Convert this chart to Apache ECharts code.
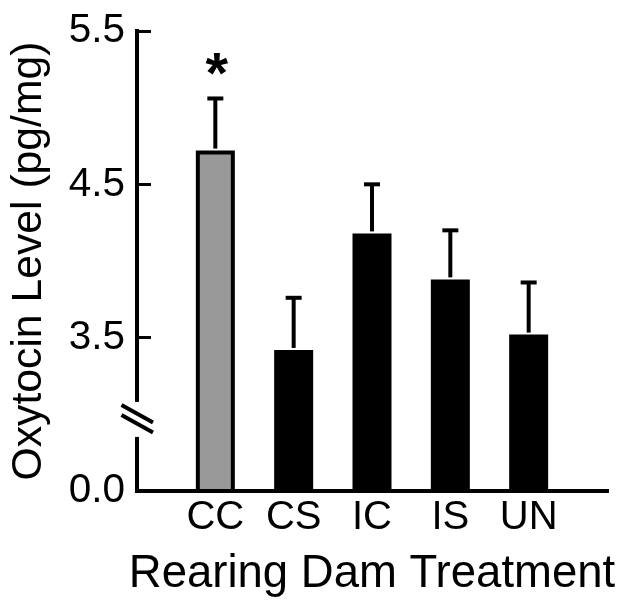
<!DOCTYPE html>
<html><head><meta charset="utf-8">
<script src="https://cdn.jsdelivr.net/npm/echarts@6/dist/echarts.min.js"></script>
<style>html,body{margin:0;padding:0;background:#fff}#c{width:633px;height:609px}</style>
</head><body><div id="c"></div>
<script>
const categories = ['CC', 'CS', 'IC', 'IS', 'UN'];
const means = [4.72, 3.42, 4.18, 3.88, 3.52];
const errors = [0.34, 0.34, 0.32, 0.32, 0.34];
const marks = ['*', '', '', '', ''];
const yTickValues = [3.5, 4.5, 5.5];
const yLabelValues = [2.5, 3.5, 4.5, 5.5];
const yLabelTexts = ['0.0', '3.5', '4.5', '5.5'];
const axisFloor = 2.5;   // broken axis: floor is labelled 0.0
const axisCeil = 5.5;
const breakAt = 2.97;
const barColors = ['#999999', '#000000', '#000000', '#000000', '#000000'];

const FONT = 'Liberation Sans, Arial, Helvetica, sans-serif';
const chart = echarts.init(document.getElementById('c'), null, {renderer: 'canvas'});

const xPos = categories.map((c, i) => i + 1);

chart.setOption({
  backgroundColor: '#ffffff',
  animation: false,
  grid: {left: 137, right: 26, top: 31, bottom: 118, containLabel: false, outerBoundsMode: 'none'},
  xAxis: {
    type: 'value', min: 0, max: categories.length + 1, interval: 1,
    splitLine: {show: false},
    axisTick: {show: false},
    axisLine: {show: true, lineStyle: {color: '#000', width: 4, cap: 'square'}},
    axisLabel: {
      customValues: xPos,
      margin: 7,
      color: '#000', fontSize: 40, fontFamily: FONT,
      formatter: v => (Number.isInteger(v) && v >= 1 && v <= categories.length) ? categories[v - 1] : ''
    },
    name: 'Rearing Dam Treatment', nameLocation: 'middle', nameGap: 60,
    nameTextStyle: {color: '#000', fontSize: 45.5, fontFamily: FONT}
  },
  yAxis: {
    type: 'value', min: axisFloor, max: axisCeil, interval: 0.5,
    splitLine: {show: false},
    axisLine: {show: true, lineStyle: {color: '#000', width: 4, cap: 'square'}},
    axisTick: {show: true, inside: true, length: 14, customValues: yTickValues, lineStyle: {color: '#000', width: 3}},
    axisLabel: {
      customValues: yLabelValues, margin: 12,
      color: '#000', fontSize: 40.5, fontFamily: FONT,
      formatter: v => { const k = yLabelValues.findIndex(t => Math.abs(t - v) < 1e-6); return k >= 0 ? yLabelTexts[k] : ''; }
    },
    name: 'Oxytocin Level (pg/mg)', nameLocation: 'middle', nameRotate: 90, nameGap: 86,
    nameTextStyle: {color: '#000', fontSize: 42.7, fontFamily: FONT}
  },
  series: [
    {
      type: 'bar', barWidth: 39,
      data: means.map((v, i) => ({value: [xPos[i], v], itemStyle: {color: barColors[i], borderColor: '#000', borderWidth: 4}})),
      z: 2
    },
    {
      type: 'custom', z: 3,
      data: means.map((v, i) => [xPos[i], v, v + errors[i], i]),
      renderItem: (params, api) => {
        const x = api.value(0), m = api.value(1), hi = api.value(2), idx = api.value(3);
        const pm = api.coord([x, m]);
        const ph = api.coord([x, hi]);
        const children = [
          {type: 'line', shape: {x1: pm[0], y1: pm[1] - 2, x2: ph[0], y2: ph[1]}, style: {stroke: '#000', lineWidth: 4}},
          {type: 'line', shape: {x1: ph[0] - 8, y1: ph[1], x2: ph[0] + 8, y2: ph[1]}, style: {stroke: '#000', lineWidth: 4}}
        ];
        if (marks[idx]) {
          children.push({type: 'text', style: {text: marks[idx], x: ph[0] + 1.5, y: ph[1] - 21, align: 'center', verticalAlign: 'middle', fontSize: 58, fontWeight: 'bold', fontFamily: FONT, fill: '#000'}});
        }
        return {type: 'group', children};
      }
    }
  ]
});

const pY = chart.convertToPixel({yAxisIndex: 0}, breakAt);
const pX = chart.convertToPixel({xAxisIndex: 0}, 0);
chart.setOption({
  graphic: [
    {type: 'rect', shape: {x: pX - 6, y: pY - 17, width: 12, height: 35}, style: {fill: '#fff'}, z: 100},
    {type: 'line', shape: {x1: pX - 15.5, y1: pY - 14, x2: pX + 16, y2: pY + 3.5}, style: {stroke: '#000', lineWidth: 4}, z: 101},
    {type: 'line', shape: {x1: pX - 15.5, y1: pY - 4, x2: pX + 16, y2: pY + 13.5}, style: {stroke: '#000', lineWidth: 4}, z: 101}
  ]
});
</script>
</body></html>
